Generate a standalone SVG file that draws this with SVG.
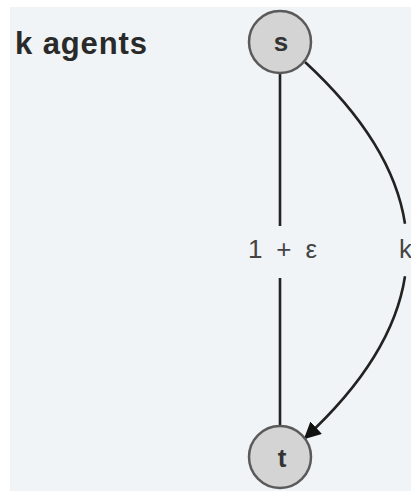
<svg xmlns="http://www.w3.org/2000/svg" width="411" height="491" viewBox="0 0 411 491">
<style>
.node{fill:#d4d4d4;stroke:#5a5a5a;stroke-width:2.5}
.edge{fill:none;stroke:#222;stroke-width:2.6}
.nlabel{font-family:"Liberation Sans",Arial,sans-serif;font-weight:bold;font-size:26px;fill:#333;text-anchor:middle}
.elabel{font-family:"Liberation Sans",Arial,sans-serif;font-size:26px;fill:#444}
</style>
<defs>
<marker id="arrow" viewBox="0 0 10 10" refX="9" refY="5" markerWidth="6.5" markerHeight="6.5" orient="auto" markerUnits="strokeWidth">
<path d="M0,0 L10,5 L0,10 z" fill="#111"/>
</marker>
</defs>
<rect width="411" height="491" fill="#ffffff"/>
<rect x="10" y="7" width="401" height="484" fill="#f0f4f6"/>
<text x="15" y="54" font-family="'Liberation Sans',Arial,sans-serif" font-weight="bold" font-size="31" fill="#2a2a2a" textLength="132" lengthAdjust="spacing">k agents</text>
<g id="connectors">
<line class="edge" x1="280" y1="73" x2="280" y2="226"/>
<line class="edge" x1="280" y1="278" x2="280" y2="426"/>
<path class="edge" d="M305,62 Q392.7,142.9 405,223.7"/>
<path class="edge" d="M405,276.3 Q392.7,357.1 305,438" marker-end="url(#arrow)"/>
<text class="elabel" x="248" y="258" textLength="69" lengthAdjust="spacing">1 + ε</text>
<text class="elabel" x="399" y="258">k</text>
</g>
<g id="node-s">
<circle class="node" cx="280" cy="42" r="31"/>
<text class="nlabel" x="281" y="51">s</text>
</g>
<g id="node-t">
<circle class="node" cx="280" cy="457" r="31"/>
<text class="nlabel" x="282" y="467">t</text>
</g>
</svg>
